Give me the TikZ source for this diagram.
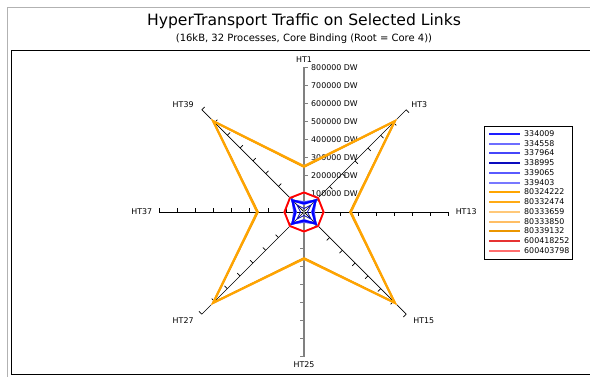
\documentclass[tikz,border=0pt]{standalone}
\usepackage{fontspec}
\setmainfont{DejaVu Sans}
\usetikzlibrary{calc}
\definecolor{bA}{RGB}{30,30,255}
\definecolor{bB}{RGB}{110,110,255}
\definecolor{bC}{RGB}{70,70,250}
\definecolor{bD}{RGB}{10,10,190}
\definecolor{bE}{RGB}{90,90,255}
\definecolor{bF}{RGB}{120,120,255}
\definecolor{oA}{RGB}{255,165,0}
\definecolor{oB}{RGB}{255,170,20}
\definecolor{oC}{RGB}{255,200,120}
\definecolor{oD}{RGB}{255,190,100}
\definecolor{oE}{RGB}{235,150,0}
\definecolor{rA}{RGB}{230,50,50}
\definecolor{rB}{RGB}{255,110,110}
\definecolor{axgray}{RGB}{128,128,128}
\tikzset{
  axisline/.style={black, line width=0.7},
  vaxis/.style={axgray, line width=1.6},
  tickmark/.style={black, line width=0.7},
  lbl/.style={inner sep=0pt, font=\fontsize{7.9}{9}\selectfont},
  series/.style={line width=1.7, line join=miter},
}
\begin{document}
\begin{tikzpicture}[x=1pt,y=1pt]
\useasboundingbox (0,0) rectangle (590,377);
\fill[white] (0,0) rectangle (590,377);
% frames
\draw[gray!60, line width=0.9] (7,0) -- (7,370) -- (590,370);
\draw[black, line width=0.9] (590,327) -- (11,327) -- (11,2.5) -- (590,2.5);
% titles
\node[inner sep=0pt] (title) at (304,356) {\fontsize{15.6}{18}\selectfont HyperTransport Traffic on Selected Links};
\node[inner sep=0pt] (subtitle) at (304,338) {\fontsize{10}{12}\selectfont (16kB, 32 Processes, Core Binding (Root = Core 4))};
\begin{scope}[shift={(304,165)}]
  \coordinate (c) at (0,0);
  % axes
  \foreach \a/\n in {45/HT3,0/HT13,-45/HT15,-135/HT27,180/HT37,135/HT39}{
    \coordinate (e\n) at (\a:144.6);
    \draw[axisline] (c) -- (e\n);
    \foreach \k in {1,...,8}{
      \draw[tickmark] (\a:{\k*18.07}) -- ++(\a-90:4);
    }
  }
  \foreach \a/\n in {90/HT1,-90/HT25}{
    \coordinate (e\n) at (\a:144.6);
    \draw[vaxis] (c) -- (e\n);
    \foreach \k in {1,...,8}{
      \draw[vaxis, line width=1] (\a:{\k*18.07}) -- ++(\a-90:4);
    }
  }
  % tick labels
  \foreach \k in {1,...,8}{
    \node[lbl, anchor=west] (t\k) at (7,{\k*18.07}) {\k00000 DW};
  }
  % axis labels
  \node[lbl, anchor=south] (lHT1) at ($(eHT1)+(0,5)$) {HT1};
  \node[lbl, anchor=north] (lHT25) at ($(eHT25)+(0,-5)$) {HT25};
  \node[lbl, anchor=east] (lHT37) at ($(eHT37)+(-7,0)$) {HT37};
  \node[lbl, anchor=west] (lHT13) at ($(eHT13)+(7,0)$) {HT13};
  \node[lbl, anchor=east] (lHT39) at ($(eHT39)+(-8,5)$) {HT39};
  \node[lbl, anchor=west] (lHT3) at ($(eHT3)+(5,5)$) {HT3};
  \node[lbl, anchor=east] (lHT27) at ($(eHT27)+(-8,-6)$) {HT27};
  \node[lbl, anchor=west] (lHT15) at ($(eHT15)+(7,-6)$) {HT15};
  % series: orange
  \foreach \col/\i/\o in {oC/46/129.5, oD/45.5/129, oB/46/128.5, oE/45/128, oA/45.5/128.3}{
    \draw[series, \col] (90:\i) -- (45:\o) -- (0:{\i+1}) -- (-45:\o) -- (-90:{\i+1}) -- (-135:\o) -- (180:{\i+1}) -- (135:\o) -- cycle;
  }
  % red
  \draw[series, rB] (90:19.7) -- (45:20) -- (0:19.7) -- (-45:20) -- (-90:19.7) -- (-135:20) -- (180:19.7) -- (135:20) -- cycle;
  \draw[series, red] (90:19.5) -- (45:19.8) -- (0:19.5) -- (-45:19.8) -- (-90:19.5) -- (-135:19.8) -- (180:19.5) -- (135:19.8) -- cycle;
  % blue
  \foreach \col/\i/\o in {bB/10/15.5, bF/8/17, bE/9/16.5, bC/9.5/16, blue/8.5/16.5}{
    \draw[series, \col, line width=2] (90:\i) -- (45:\o) -- (0:\i) -- (-45:\o) -- (-90:\i) -- (-135:\o) -- (180:\i) -- (135:\o) -- cycle;
  }
  \draw[bD, line width=0.8] (90:3.5) -- (45:10) -- (0:3.5) -- (-45:10) -- (-90:3.5) -- (-135:10) -- (180:3.5) -- (135:10) -- cycle;
\end{scope}
% legend
\draw[black, line width=0.7, fill=white] (484,118) rectangle (572,251);
\foreach \col/\w/\y/\txt [count=\i from 0] in {bA/1.8/243/334009, bB/2.2/233/334558, bC/1.8/224/337964, bD/1.8/214/338995, bE/1.8/204/339065, bF/2.2/194/339403, oA/1.8/185/80324222, oB/1.8/175/80332474, oC/2.2/165/80333659, oD/2/155/80333850, oE/1.8/146/80339132, rA/1.8/136/600418252, rB/2.2/126/600403798}{
  \coordinate (ls\i) at (489,\y);
  \coordinate (le\i) at (520,\y);
  \draw[\col, line width=\w] (ls\i) -- (le\i);
  \node[lbl, anchor=west] (lt\i) at (524,\y) {\txt};
}
\end{tikzpicture}
\end{document}
